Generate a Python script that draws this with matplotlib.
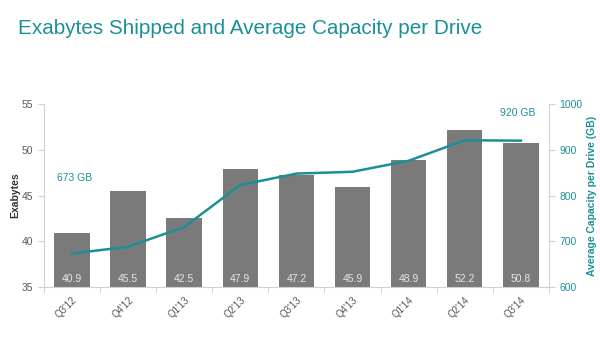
import matplotlib.pyplot as plt
import numpy as np

plt.rcParams['font.family'] = ['Liberation Sans', 'DejaVu Sans']

quarters = ["Q3'12", "Q4'12", "Q1'13", "Q2'13", "Q3'13", "Q4'13", "Q1'14", "Q2'14", "Q3'14"]
exabytes = [40.9, 45.5, 42.5, 47.9, 47.2, 45.9, 48.9, 52.2, 50.8]
capacity_gb = [673, 688, 731, 823, 848, 852, 876, 921, 920]

teal = '#1a9096'
grey_txt = '#595959'
spine_c = '#d0d0d0'

fig = plt.figure(figsize=(6, 3.38), dpi=100)
fig.text(0.03, 0.915, 'Exabytes Shipped and Average Capacity per Drive',
         color=teal, fontsize=14.9, va='center', ha='left')

ax = fig.add_axes([0.073, 0.151, 0.842, 0.541])
x = np.arange(len(quarters))
ax.bar(x, exabytes, width=0.63, color='#7a7a7a', zorder=2)
for xi, v in zip(x, exabytes):
    ax.text(xi, 35.9, f'{v:.1f}', color='#e6e6e6', fontsize=7.5,
            ha='center', va='center', zorder=3)

ax.set_ylim(35, 55)
ax.set_xlim(-0.5, len(quarters) - 0.5)
ax.set_yticks([35, 40, 45, 50, 55])
ax.set_xticks(x)
ax.set_xticklabels(quarters, rotation=45, ha='right', rotation_mode='anchor')
ax.set_xticks(np.arange(-0.5, len(quarters), 1), minor=True)
ax.tick_params(axis='x', which='major', length=0, pad=6, labelsize=7, labelcolor=grey_txt)
ax.tick_params(axis='x', which='minor', length=4, color=spine_c, direction='out')
ax.tick_params(axis='y', length=4, color=spine_c, labelsize=7.5, labelcolor=grey_txt)
ax.set_ylabel('Exabytes', fontsize=7.5, color='#333333', fontweight='bold', labelpad=1)
for s in ['top', 'right']:
    ax.spines[s].set_visible(False)
for s in ['left', 'bottom']:
    ax.spines[s].set_color(spine_c)

ax2 = ax.twinx()
ax2.plot(x, capacity_gb, color=teal, lw=1.8, zorder=4)
ax2.set_ylim(600, 1000)
ax2.set_yticks([600, 700, 800, 900, 1000])
ax2.tick_params(axis='y', length=4, color=spine_c, labelsize=7.5, labelcolor=teal)
ax2.set_ylabel('Average Capacity per Drive (GB)', fontsize=7.5, color=teal,
               fontweight='bold', labelpad=3)
for s in ['top', 'left', 'bottom']:
    ax2.spines[s].set_visible(False)
ax2.spines['right'].set_color(spine_c)

ax2.text(-0.27, 838, f'{capacity_gb[0]} GB', color=teal, fontsize=7.5, ha='left', va='center')
ax2.text(7.95, 980, f'{capacity_gb[-1]} GB', color=teal, fontsize=7.5, ha='center', va='center')

fig.savefig('out.png', dpi=100)
